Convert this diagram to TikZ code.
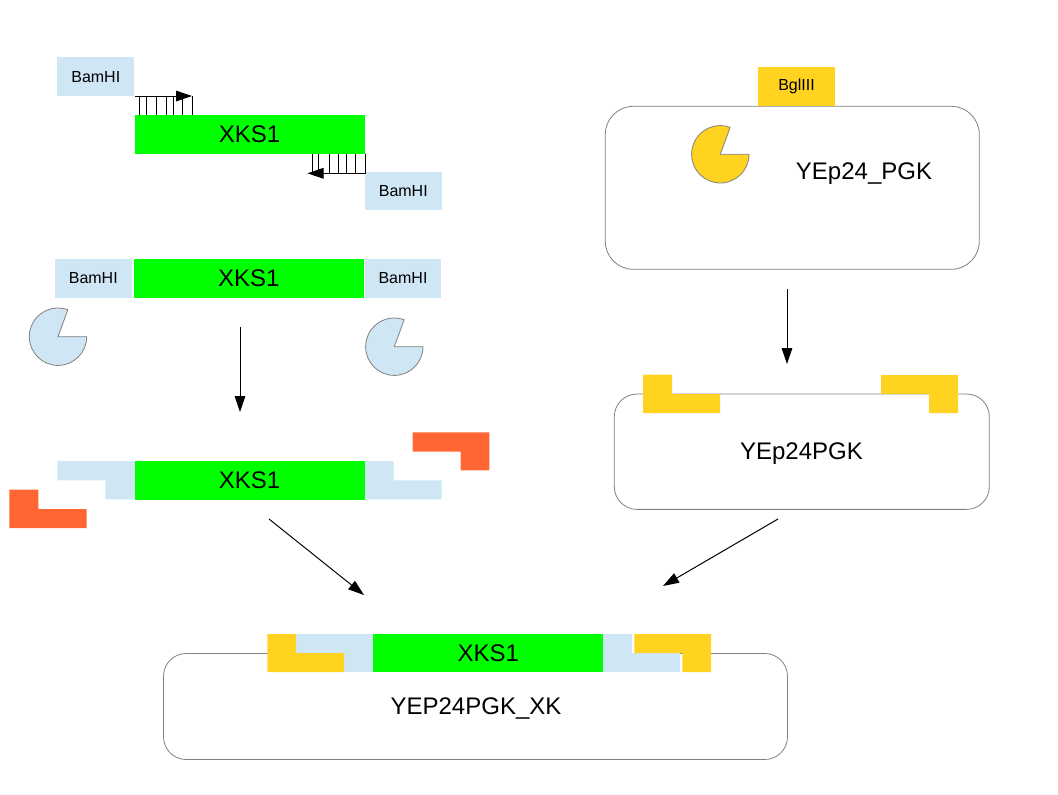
\documentclass[tikz,border=0pt]{standalone}
\usepackage{fontspec}
\setmainfont{Liberation Sans}
\usetikzlibrary{arrows.meta}
\definecolor{siteblue}{HTML}{CFE7F5}
\definecolor{geneGreen}{HTML}{00FF00}
\definecolor{bglyellow}{HTML}{FFD320}
\definecolor{stickyorange}{HTML}{FF6633}
\definecolor{outlinegray}{HTML}{808080}
\tikzset{
  sitebox/.style={inner sep=0pt,minimum width=57.5pt,minimum height=29pt,font=\fontsize{12}{14}\selectfont},
  genebox/.style={fill=geneGreen,inner sep=0pt,minimum width=172.5pt,minimum height=29pt,font=\fontsize{18}{20}\selectfont},
  plasmidbox/.style={draw=outlinegray,line width=0.6pt,rounded corners=#1,inner sep=0pt},
  bigtext/.style={inner sep=0pt,font=\fontsize{18}{20}\selectfont},
  enzyme/.style={draw=outlinegray,line width=0.6pt},
  stepline/.style={-{Triangle[length=12pt,width=8pt]},line width=0.75pt,black}
}
\begin{document}
\begin{tikzpicture}[x=0.75pt,y=0.75pt,yscale=-1,xscale=1]
    \useasboundingbox (0,0) rectangle (1058,794);

    %Plasmid outlines
    \node (vectorTop) [plasmidbox=21pt,minimum width=280.5pt,minimum height=122.25pt] at (792.3,187.8) {};
    \node (vectorCut) [plasmidbox=17pt,minimum width=281.25pt,minimum height=86.5pt] at (801.8,451.7) {};
    \node (vectorXks) [plasmidbox=17pt,minimum width=468pt,minimum height=79.5pt] at (475.5,706.5) {};

    %Primers, first row
    \node (siteA) [sitebox,fill=siteblue] at (95.8,76.8) {BamHI};
    \node (siteB) [sitebox,fill=siteblue] at (403.3,191) {BamHI};
    \node (geneA) [genebox] at (249.5,134.7) {XKS1};
    \foreach \x in {139.3,146,156.3,166.7,173.3,182.7,192.7}
        \draw [line width=0.75pt] (\x,96) -- (\x,115);
    \foreach \x in {312.3,318.3,329.3,338.3,346.7,355.7,365.7}
        \draw [line width=0.75pt] (\x,154) -- (\x,173.3);
    \coordinate (primerAstart) at (135,96);
    \coordinate (primerAend) at (192,96);
    \coordinate (primerBstart) at (366,173.3);
    \coordinate (primerBend) at (307.5,173.3);
    \draw [stepline] (primerAstart) -- (primerAend);
    \draw [stepline] (primerBstart) -- (primerBend);

    %PCR product with the two enzymes
    \node (siteC) [sitebox,fill=siteblue] at (93.3,278.5) {BamHI};
    \node (geneB) [genebox] at (248.8,278.5) {XKS1};
    \node (siteD) [sitebox,fill=siteblue] at (403,278.5) {BamHI};
    \draw [enzyme,fill=siteblue] (58,336.7) -- ++(0:28.7) arc (0:290:28.7) -- cycle;
    \draw [enzyme,fill=siteblue] (394.3,346.7) -- ++(0:28.7) arc (0:290:28.7) -- cycle;

    %Digested product
    \fill [siteblue] (57.3,461) -- (136,461) -- (136,499.3) -- (105.3,499.3) -- (105.3,480.3) -- (57.3,480.3) -- cycle;
    \fill [siteblue] (364,461) -- (393.5,461) -- (393.5,480.3) -- (441.5,480.3) -- (441.5,499.3) -- (364,499.3) -- cycle;
    \node (geneC) [genebox] at (249.5,480.2) {XKS1};
    \fill [stickyorange] (412.7,432.3) -- (489.3,432.3) -- (489.3,470.3) -- (460.7,470.3) -- (460.7,451.7) -- (412.7,451.7) -- cycle;
    \fill [stickyorange] (9.3,489.7) -- (38.3,489.7) -- (38.3,509) -- (86.5,509) -- (86.5,528) -- (9.3,528) -- cycle;

    %Vector with BglII
    \node (siteE) [sitebox,fill=bglyellow] at (796.5,86.2) {BglIII};
    \draw [enzyme,fill=bglyellow] (720.3,154.3) -- ++(0:28.7) arc (0:290:28.7) -- cycle;
    \node (vectorTopLabel) [bigtext] at (864,174) {YEp24\_PGK};

    %Digested vector
    \fill [bglyellow] (643,374.5) -- (672,374.5) -- (672,394) -- (720,394) -- (720,413) -- (643,413) -- cycle;
    \fill [bglyellow] (881,375) -- (958,375) -- (958,413) -- (929,413) -- (929,394) -- (881,394) -- cycle;
    \node (vectorCutLabel) [bigtext] at (801.5,454) {YEp24PGK};

    %Ligated plasmid
    \fill [white] (262,630) rectangle (716,652.5);
    \fill [siteblue] (296,634) -- (374,634) -- (374,672) -- (344,672) -- (344,653) -- (296,653) -- cycle;
    \fill [siteblue] (603,634) -- (632,634) -- (632,653) -- (680,653) -- (680,672) -- (603,672) -- cycle;
    \fill [bglyellow] (267.3,634) -- (296,634) -- (296,653) -- (344,653) -- (344,672) -- (267.3,672) -- cycle;
    \fill [bglyellow] (634.3,634) -- (711,634) -- (711,672) -- (682.3,672) -- (682.3,653) -- (634.3,653) -- cycle;
    \node (geneD) [genebox] at (488.2,653) {XKS1};
    \node (vectorXksLabel) [bigtext] at (476,708) {YEP24PGK\_XK};

    %Step arrows
    \coordinate (stepAstart) at (240,327);
    \coordinate (stepAend) at (240,412);
    \coordinate (stepBstart) at (787,289);
    \coordinate (stepBend) at (787,364);
    \coordinate (stepCstart) at (269,519);
    \coordinate (stepCend) at (364,595);
    \coordinate (stepDstart) at (778,519);
    \coordinate (stepDend) at (663,586);
    \draw [stepline] (stepAstart) -- (stepAend);
    \draw [stepline] (stepBstart) -- (stepBend);
    \draw [stepline] (stepCstart) -- (stepCend);
    \draw [stepline] (stepDstart) -- (stepDend);
\end{tikzpicture}
\end{document}
